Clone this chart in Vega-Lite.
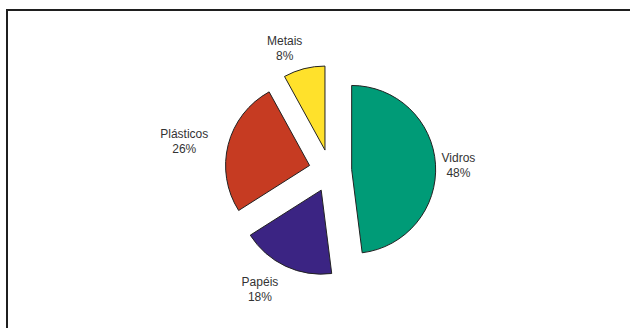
{
  "$schema": "https://vega.github.io/schema/vega-lite/v6.json",
  "autosize": {"type": "fit", "contains": "padding"},
  "width": 630,
  "height": 328,
  "padding": {"left": 7, "top": 10, "right": -1, "bottom": -1},
  "background": "white",
  "config": {
    "view": {"stroke": "#1f1f1f", "strokeWidth": 2},
    "text": {"font": "Liberation Sans"}
  },
  "data": {
    "values": [
      {"material": "Vidros", "pct": 48},
      {"material": "Papéis", "pct": 18},
      {"material": "Plásticos", "pct": 26},
      {"material": "Metais", "pct": 8}
    ]
  },
  "transform": [
    {"stack": "pct", "groupby": [], "as": ["start", "end"]},
    {"calculate": "(datum.start + datum.end) / 2 / 100 * 2 * PI", "as": "midAngle"},
    {"calculate": "21.4 * sin(datum.midAngle)", "as": "explodeX"},
    {"calculate": "21.4 * cos(datum.midAngle)", "as": "explodeY"},
    {"calculate": "datum.explodeX + 118 * sin(datum.midAngle)", "as": "labelX"},
    {"calculate": "datum.explodeY + 107 * cos(datum.midAngle)", "as": "labelY"},
    {"calculate": "datum.material + '\\n' + datum.pct + '%'", "as": "label"}
  ],
  "layer": [
    {
      "mark": {"type": "arc", "radius": 84, "stroke": "#222222", "strokeWidth": 1},
      "encoding": {
        "x": {
          "field": "explodeX",
          "type": "quantitative",
          "scale": {"domain": [-323.3, 300.7], "nice": false, "zero": false},
          "axis": null
        },
        "y": {
          "field": "explodeY",
          "type": "quantitative",
          "scale": {"domain": [-158.2, 160.8], "nice": false, "zero": false},
          "axis": null
        },
        "theta": {
          "field": "start",
          "type": "quantitative",
          "stack": null,
          "scale": {"domain": [0, 100], "range": [0, 6.283185307179586]}
        },
        "theta2": {"field": "end"},
        "color": {
          "field": "material",
          "type": "nominal",
          "scale": {
            "domain": ["Vidros", "Papéis", "Plásticos", "Metais"],
            "range": ["#009B77", "#3B2483", "#C63B22", "#FFE12B"]
          },
          "legend": null
        }
      }
    },
    {
      "mark": {
        "type": "text",
        "dx": -11,
        "dy": -5,
        "align": "center",
        "baseline": "middle",
        "lineBreak": "\n",
        "lineHeight": 15,
        "fontSize": 12,
        "fill": "#333333"
      },
      "encoding": {
        "x": {"field": "labelX", "type": "quantitative"},
        "y": {"field": "labelY", "type": "quantitative"},
        "text": {"field": "label"}
      }
    }
  ]
}
